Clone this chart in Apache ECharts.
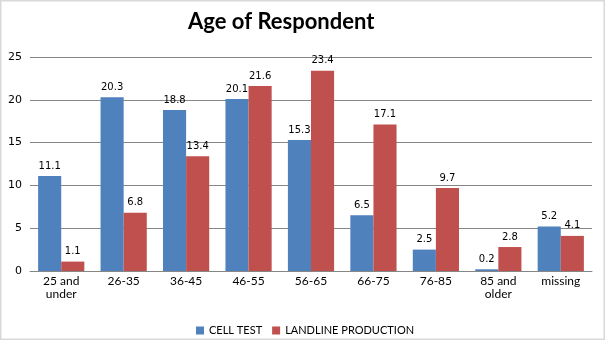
<!DOCTYPE html>
<html><head><meta charset="utf-8">
<script src="https://cdn.jsdelivr.net/npm/echarts@6/dist/echarts.min.js"></script>
<style>html,body{margin:0;padding:0;background:#fff}#c{width:605px;height:340px}</style>
</head><body><div id="c"></div>
<script>
const categories = ['25 and\nunder','26-35','36-45','46-55','56-65','66-75','76-85','85 and\nolder','missing'];
const cellTest = [11.1, 20.3, 18.8, 20.1, 15.3, 6.5, 2.5, 0.2, 5.2];
const landline = [1.1, 6.8, 13.4, 21.6, 23.4, 17.1, 9.7, 2.8, 4.1];
const yTicks = {min: 0, max: 25, interval: 5};

const chart = echarts.init(document.getElementById('c'));
const lbl = {show: true, position: 'top', distance: 5, color: '#000', fontFamily: 'DejaVu Sans', fontSize: 10};
chart.setOption({
  animation: false,
  backgroundColor: '#fff',
  title: {text: 'Age of Respondent', left: 183, top: 6,
    textStyle: {fontFamily: 'Lato', fontWeight: 'bold', fontSize: 22, color: '#000'}},
  grid: {left: 30, right: 13, top: 57, bottom: 69},
  legend: {top: 320, left: 191, itemWidth: 8, itemHeight: 8, itemGap: 10,
    icon: 'rect', textStyle: {fontFamily: 'Lato', fontSize: 11, color: '#000'},
    data: ['CELL TEST', 'LANDLINE PRODUCTION']},
  xAxis: {type: 'category', data: categories,
    axisLine: {lineStyle: {color: '#868686'}}, axisTick: {show: false},
    axisLabel: {interval: 0, color: '#000', fontFamily: 'Lato', fontSize: 12, lineHeight: 13, margin: 4}},
  yAxis: {type: 'value', min: yTicks.min, max: yTicks.max, interval: yTicks.interval,
    axisLine: {show: false}, axisTick: {show: false},
    splitLine: {lineStyle: {color: '#868686'}},
    axisLabel: {color: '#000', fontFamily: 'DejaVu Sans', fontSize: 11, margin: 8}},
  series: [
    {name: 'CELL TEST', type: 'bar', data: cellTest, barGap: '0%', barCategoryGap: '26%',
      itemStyle: {color: '#4F81BD'}, label: lbl},
    {name: 'LANDLINE PRODUCTION', type: 'bar', data: landline,
      itemStyle: {color: '#C0504D'}, label: lbl}
  ],
  graphic: [{type: 'rect', shape: {x: 0.5, y: 0.5, width: 604, height: 339},
    style: {fill: 'none', stroke: '#d9d9d9', lineWidth: 2}}]
});
</script></body></html>
